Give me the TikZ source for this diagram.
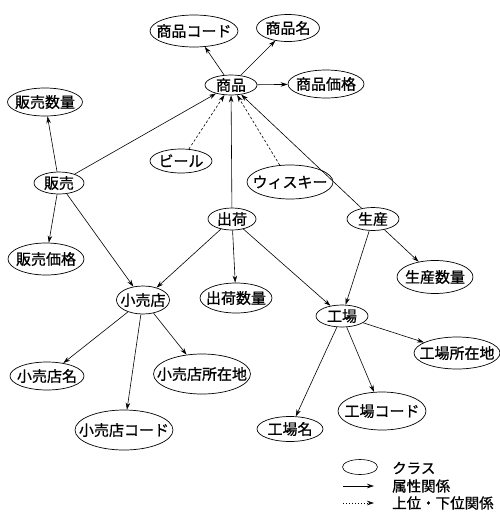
\documentclass[tikz,border=0pt]{standalone}
\usepackage{fontspec}
\setmainfont{Noto Sans CJK JP}[FakeBold=0.8]
\usetikzlibrary{shapes.geometric,arrows.meta}
\newcommand\T[1]{\raisebox{-0.38em}[0pt][0pt]{\makebox[0pt]{#1}}}
\begin{document}
\begin{tikzpicture}[x=1pt,y=-1pt,
  cls/.style={ellipse,draw,line width=0.7pt,inner sep=0pt,font=\fontsize{15}{17}\selectfont},
  attr/.style={-{Stealth[length=7pt,width=4.5pt]},line width=0.6pt},
  isa/.style={attr,dash pattern=on 2.5pt off 2pt},
  lgtext/.style={anchor=west,inner sep=0pt,font=\fontsize{14.5}{16}\selectfont}]
\useasboundingbox (0,0) rectangle (500,515);
% nodes
\node[cls,minimum width=88pt,minimum height=32pt] (code) at (194,31) {\T{商品コード}};
\node[cls,minimum width=63pt,minimum height=27pt] (name) at (288,28) {\T{商品名}};
\node[cls,minimum width=52pt,minimum height=20pt] (shohin) at (231,85) {\T{商品}};
\node[cls,minimum width=76pt,minimum height=28pt] (price) at (326,84) {\T{商品価格}};
\node[cls,minimum width=75pt,minimum height=28pt] (hsq) at (45,102) {\T{販売数量}};
\node[cls,minimum width=62pt,minimum height=24pt] (beer) at (181,161) {\T{ビール}};
\node[cls,minimum width=86pt,minimum height=34pt] (whisky) at (290,182) {\T{ウィスキー}};
\node[cls,minimum width=50pt,minimum height=22pt] (hanbai) at (59,183) {\T{販売}};
\node[cls,minimum width=76pt,minimum height=32pt] (hsp) at (46,259) {\T{販売価格}};
\node[cls,minimum width=48pt,minimum height=22pt] (shukka) at (232,219) {\T{出荷}};
\node[cls,minimum width=52pt,minimum height=23pt] (seisan) at (373,219) {\T{生産}};
\node[cls,minimum width=53pt,minimum height=28pt] (kouri) at (143,300) {\T{小売店}};
\node[cls,minimum width=72pt,minimum height=30pt] (sq) at (236,298) {\T{出荷数量}};
\node[cls,minimum width=76pt,minimum height=33pt] (ssq) at (435,277) {\T{生産数量}};
\node[cls,minimum width=52pt,minimum height=22pt] (kojo) at (342,316) {\T{工場}};
\node[cls,minimum width=86pt,minimum height=32pt] (kjs) at (457,353) {\T{工場所在地}};
\node[cls,minimum width=74pt,minimum height=28pt] (kmei) at (47,376) {\T{小売店名}};
\node[cls,minimum width=97pt,minimum height=40pt] (kshozai) at (202,374) {\T{小売店所在地}};
\node[cls,minimum width=98pt,minimum height=40pt] (kcode) at (124,430) {\T{小売店コード}};
\node[cls,minimum width=88pt,minimum height=38pt] (kjcode) at (382,411) {\T{工場コード}};
\node[cls,minimum width=66pt,minimum height=25pt] (kjmei) at (290,429) {\T{工場名}};
% attribute relations
\draw[attr] (shohin) -- (code);
\draw[attr] (shohin) -- (name);
\draw[attr] (shohin) -- (price);
\draw[attr] (hanbai) -- (hsq);
\draw[attr] (hanbai) -- (hsp);
\draw[attr] (hanbai) -- (kouri);
\draw[attr] (hanbai) -- (shohin);
\draw[attr] (shukka) -- (shohin);
\draw[attr] (shukka) -- (kouri);
\draw[attr] (shukka) -- (sq);
\draw[attr] (shukka) -- (kojo);
\draw[attr] (seisan) -- (shohin);
\draw[attr] (seisan) -- (kojo);
\draw[attr] (seisan) -- (ssq);
\draw[attr] (kojo) -- (kjmei);
\draw[attr] (kojo) -- (kjcode);
\draw[attr] (kojo) -- (kjs);
\draw[attr] (kouri) -- (kmei);
\draw[attr] (kouri) -- (kcode);
\draw[attr] (kouri) -- (kshozai);
% hierarchy
\draw[isa] (beer) -- (shohin);
\draw[isa] (whisky) -- (shohin);
% legend
\node[ellipse,draw,line width=0.6pt,inner sep=0pt,minimum width=35pt,minimum height=15pt] (lgcls) at (360,467) {};
\node[lgtext] (lt1) at (392,468) {クラス};
\coordinate (la1) at (343,486);
\coordinate (la2) at (374,486);
\draw[attr] (la1) -- (la2);
\node[lgtext] (lt2) at (392,486) {属性関係};
\coordinate (lb1) at (343,503);
\coordinate (lb2) at (374,503);
\draw[isa,dash pattern=on 1pt off 2pt] (lb1) -- (lb2);
\node[lgtext] (lt3) at (392,503) {上位・下位関係};
\end{tikzpicture}
\end{document}
